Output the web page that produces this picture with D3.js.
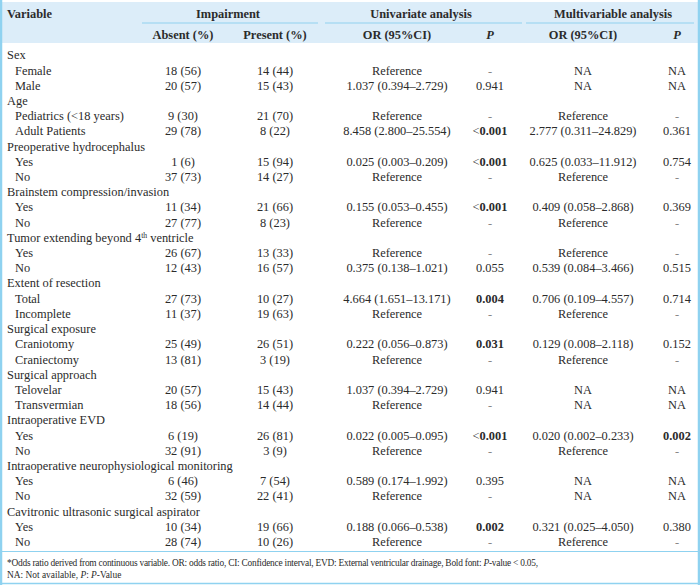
<!DOCTYPE html>
<html><head><meta charset="utf-8">
<script src="https://cdn.jsdelivr.net/npm/d3@7"></script>
<style>body{margin:0;background:#fff}svg{display:block}</style>
</head><body><div id="chart"></div>
<script>
const rowLabels = ["Sex","Female","Male","Age","Pediatrics (<18 years)","Adult Patients","Preoperative hydrocephalus","Yes","No","Brainstem compression/invasion","Yes","No","Tumor extending beyond 4th ventricle","Yes","No","Extent of resection","Total","Incomplete","Surgical exposure","Craniotomy","Craniectomy","Surgical approach","Telovelar","Transvermian","Intraoperative EVD","Yes","No","Intraoperative neurophysiological monitoring","Yes","No","Cavitronic ultrasonic surgical aspirator","Yes","No"];
const rowLevel = [0,1,1,0,1,1,0,1,1,0,1,1,0,1,1,0,1,1,0,1,1,0,1,1,0,1,1,0,1,1,0,1,1];
const absent = ["","18 (56)","20 (57)","","9 (30)","29 (78)","","1 (6)","37 (73)","","11 (34)","27 (77)","","26 (67)","12 (43)","","27 (73)","11 (37)","","25 (49)","13 (81)","","20 (57)","18 (56)","","6 (19)","32 (91)","","6 (46)","32 (59)","","10 (34)","28 (74)"];
const present = ["","14 (44)","15 (43)","","21 (70)","8 (22)","","15 (94)","14 (27)","","21 (66)","8 (23)","","13 (33)","16 (57)","","10 (27)","19 (63)","","26 (51)","3 (19)","","15 (43)","14 (44)","","26 (81)","3 (9)","","7 (54)","22 (41)","","19 (66)","10 (26)"];
const uniOR = ["","Reference","1.037 (0.394–2.729)","","Reference","8.458 (2.800–25.554)","","0.025 (0.003–0.209)","Reference","","0.155 (0.053–0.455)","Reference","","Reference","0.375 (0.138–1.021)","","4.664 (1.651–13.171)","Reference","","0.222 (0.056–0.873)","Reference","","1.037 (0.394–2.729)","Reference","","0.022 (0.005–0.095)","Reference","","0.589 (0.174–1.992)","Reference","","0.188 (0.066–0.538)","Reference"];
const uniP = ["","-","0.941","","-","<0.001","","<0.001","-","","<0.001","-","","-","0.055","","0.004","-","","0.031","-","","0.941","-","","<0.001","-","","0.395","-","","0.002","-"];
const multiOR = ["","NA","NA","","Reference","2.777 (0.311–24.829)","","0.625 (0.033–11.912)","Reference","","0.409 (0.058–2.868)","Reference","","Reference","0.539 (0.084–3.466)","","0.706 (0.109–4.557)","Reference","","0.129 (0.008–2.118)","Reference","","NA","NA","","0.020 (0.002–0.233)","Reference","","NA","NA","","0.321 (0.025–4.050)","Reference"];
const multiP = ["","NA","NA","","-","0.361","","0.754","-","","0.369","-","","-","0.515","","0.714","-","","0.152","-","","NA","NA","","0.002","-","","NA","NA","","0.380","-"];
const groupHeaders = ["Impairment","Univariate analysis","Multivariable analysis"];
const colHeaders = ["Absent (%)","Present (%)","OR (95%CI)","P","OR (95%CI)","P"];
const footnote1 = "*Odds ratio derived from continuous variable. OR: odds ratio, CI: Confidence interval, EVD: External ventricular drainage, Bold font: ";
const footnote2 = "NA: Not available, ";

const W = 700, H = 585;
const FONT = "'Liberation Serif','Times New Roman',serif";
const TXT = "#2b2b2b";
const BLUE = "#8fd2f0";
const svg = d3.select("#chart").append("svg").attr("width", W).attr("height", H)
  .style("font-family", FONT);

// header background
svg.append("rect").attr("x", 0).attr("y", 2).attr("width", W).attr("height", 41).attr("fill", "#dcedf9");

// borders
svg.append("line").attr("x1", 1).attr("x2", 1).attr("y1", 0).attr("y2", H).attr("stroke", BLUE).attr("stroke-width", 2.5);
svg.append("line").attr("x1", W - 1).attr("x2", W - 1).attr("y1", 0).attr("y2", H).attr("stroke", BLUE).attr("stroke-width", 2.5);
svg.append("line").attr("x1", 0).attr("x2", W).attr("y1", 551.5).attr("y2", 551.5).attr("stroke", BLUE).attr("stroke-width", 1.2);
svg.append("line").attr("x1", 0).attr("x2", W).attr("y1", 583.5).attr("y2", 583.5).attr("stroke", BLUE).attr("stroke-width", 1.5);

const y = d3.scaleLinear().domain([0, rowLabels.length - 1]).range([55, 541.7]);
const colX = [183, 275, 397, 490, 583, 677];
const values = [absent, present, uniOR, uniP, multiOR, multiP];
const fs = 12.4;

// header row 1
svg.append("text").attr("x", 7).attr("y", 14).attr("dy", "0.35em").attr("font-size", fs).attr("font-weight", "bold").attr("fill", TXT).text("Variable");
const groupCenters = [228, 421, 613];
const groupSpans = [[142, 318], [325, 522], [526, 694]];
groupHeaders.forEach((g, i) => {
  svg.append("text").attr("x", groupCenters[i]).attr("y", 14).attr("dy", "0.35em").attr("text-anchor", "middle")
    .attr("font-size", fs).attr("font-weight", "bold").attr("fill", TXT).text(g);
  svg.append("line").attr("x1", groupSpans[i][0]).attr("x2", groupSpans[i][1]).attr("y1", 23).attr("y2", 23)
    .attr("stroke", BLUE).attr("stroke-width", 1.2);
});
colHeaders.forEach((h, i) => {
  svg.append("text").attr("x", colX[i]).attr("y", 35).attr("dy", "0.35em").attr("text-anchor", "middle")
    .attr("font-size", fs).attr("font-weight", "bold").attr("font-style", h === "P" ? "italic" : null)
    .attr("fill", TXT).text(h);
});

// body labels
rowLabels.forEach((lab, i) => {
  const t = svg.append("text").attr("x", rowLevel[i] ? 15 : 7).attr("y", y(i)).attr("dy", "0.35em")
    .attr("font-size", fs).attr("fill", TXT);
  if (lab.includes("4th")) {
    const parts = lab.split("4th");
    t.append("tspan").text(parts[0] + "4");
    t.append("tspan").attr("font-size", fs * 0.62).attr("dy", "-0.45em").text("th");
    t.append("tspan").attr("dy", "0.3em").text(parts[1]);
  } else t.text(lab);
});

// body values
values.forEach((arr, c) => {
  arr.forEach((v, i) => {
    if (!v) return;
    const isP = (c === 3 || c === 5);
    const num = parseFloat(v.replace("<", ""));
    const bold = isP && !isNaN(num) && num < 0.05;
    const t = svg.append("text").attr("x", colX[c]).attr("y", y(i)).attr("dy", "0.35em").attr("text-anchor", "middle")
      .attr("font-size", fs).attr("fill", v === "-" ? "#888" : TXT);
    if (bold && v.startsWith("<")) {
      t.append("tspan").text("<");
      t.append("tspan").attr("font-weight", "bold").text(v.slice(1));
    } else {
      t.attr("font-weight", bold ? "bold" : null).text(v);
    }
  });
});

// footnotes
const ffs = 9.4;
const f1 = svg.append("text").attr("x", 7).attr("y", 563).attr("dy", "0.35em").attr("font-size", ffs).attr("fill", TXT)
  .attr("textLength", 531).attr("lengthAdjust", "spacing");
f1.append("tspan").text(footnote1);
f1.append("tspan").attr("font-style", "italic").text("P");
f1.append("tspan").text("-value < 0.05,");
const f2 = svg.append("text").attr("x", 7).attr("y", 575).attr("dy", "0.35em").attr("font-size", ffs).attr("fill", TXT);
f2.append("tspan").text(footnote2);
f2.append("tspan").attr("font-style", "italic").text("P");
f2.append("tspan").text(": ");
f2.append("tspan").attr("font-style", "italic").text("P");
f2.append("tspan").text("-Value");
</script></body></html>
